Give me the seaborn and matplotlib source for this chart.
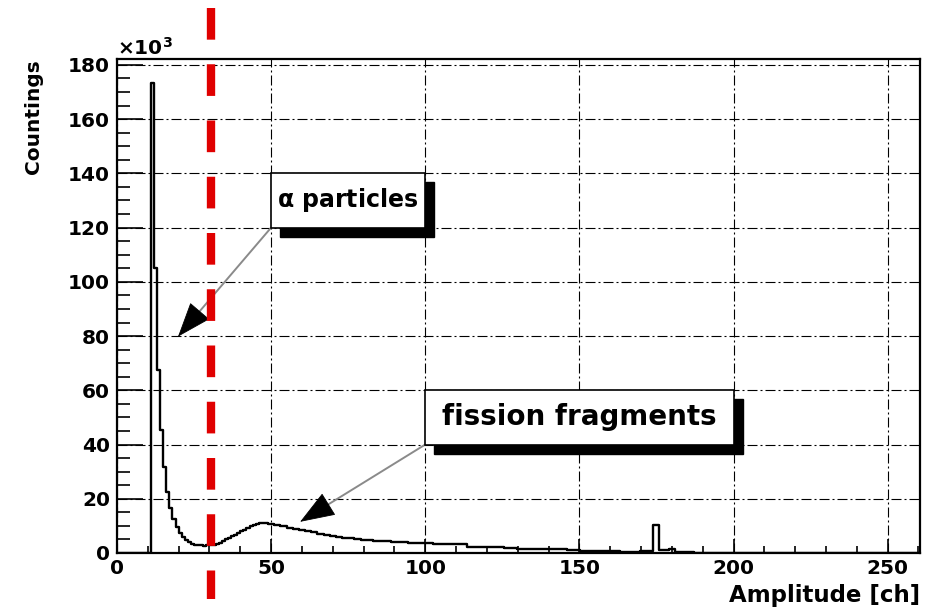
import numpy as np
import pandas as pd
import matplotlib
matplotlib.use("Agg")
import matplotlib.pyplot as plt
import matplotlib.transforms as mtransforms
from matplotlib.patches import Rectangle, FancyArrowPatch
from matplotlib.ticker import MultipleLocator
import seaborn as sns

# ---------------- data (counts in units of 10^3) ----------------
edges_low = [0, 11, 12, 13, 14, 15, 16, 17, 18, 19, 20, 21, 22, 23, 24, 25,
             26, 27, 28, 29, 30, 31, 32, 33, 34, 35, 36, 37, 38, 39, 40, 41,
             42, 43, 44, 45, 46, 47, 48, 49, 50, 51]
counts_low = [0, 173.5, 105, 67.5, 45.4, 31.8, 22.6, 16.6, 12.5, 9.5, 7.5,
              6.0, 4.9, 4.1, 3.5, 3.1, 2.9, 2.8, 2.7, 2.8, 2.9, 3.1, 3.4, 3.8,
              4.4, 5.0, 5.6, 6.2, 6.8, 7.5, 8.1, 8.6, 9.2, 9.8, 10.3, 10.7,
              11.0, 11.0, 10.9, 10.7, 10.6]
edges_mid = [53, 55, 57, 59, 61, 63, 65, 67, 69, 71, 73, 75, 77, 79, 81, 83,
             85, 87, 89, 91]
counts_mid = [10.2, 9.8, 9.4, 9.0, 8.6, 8.1, 7.6, 7.1, 6.7, 6.4, 6.0, 5.7,
              5.4, 5.1, 4.9, 4.7, 4.6, 4.4, 4.3, 4.2]
edges_tail = [94.5, 100, 102.6, 113.5, 125.4, 129.7, 146, 150.3, 160, 163.3,
              169.8, 174, 175.8, 179, 181, 187.3, 260.5]
counts_tail = [4.1, 3.8, 3.6, 3.2, 2.3, 2.0, 1.6, 1.0, 0.8, 0.9, 0.35, 0.9,
               10.3, 1.1, 1.4, 0.5, 0]

x_ticks = [0, 50, 100, 150, 200, 250]
y_ticks = [0, 20, 40, 60, 80, 100, 120, 140, 160, 180]

cut_channel = 30.4
alpha_box = (50, 120, 100, 140)
alpha_tip = (19.8, 79.8)
fission_box = (100, 40, 200, 60)
fission_tip = (59.4, 11.5)

edges = [float(e) for e in edges_low + edges_mid + edges_tail]
counts = np.array(counts_low + counts_mid + counts_tail, dtype=float)
centers = [0.5 * (a + b) for a, b in zip(edges[:-1], edges[1:])]
df = pd.DataFrame({"channel": centers, "counts": counts})

# ---------------- style ----------------
sns.set_theme(style="white")
plt.rcParams["font.family"] = ["DejaVu Sans"]
plt.rcParams["font.weight"] = "bold"
plt.rcParams["mathtext.default"] = "regular"
plt.rcParams["text.color"] = "black"
plt.rcParams["axes.labelcolor"] = "black"
plt.rcParams["xtick.color"] = "black"
plt.rcParams["ytick.color"] = "black"

fig = plt.figure(figsize=(9.27, 6.07), dpi=100)
fig.patch.set_facecolor("white")
W, H = 927, 607
ax = fig.add_axes([117 / W, 54 / H, 803 / W, 494 / H])
ax.set_facecolor("white")

sns.histplot(data=df, x="channel", weights="counts", bins=edges,
             element="step", fill=False, color="black", linewidth=1.7,
             ax=ax, zorder=3)

ax.set_xlim(0, 260.5)
ax.set_ylim(0, 1.05 * counts.max())

ax.set_xticks(x_ticks)
ax.set_yticks(y_ticks)
ax.xaxis.set_minor_locator(MultipleLocator(10))
ax.yaxis.set_minor_locator(MultipleLocator(5))
ax.tick_params(axis="both", which="both", direction="in", colors="black",
               labelsize=14.5, top=False, right=False, bottom=True, left=True,
               labelcolor="black")
ax.tick_params(axis="x", which="major", length=10, width=1.2, pad=4)
ax.tick_params(axis="x", which="minor", length=5, width=1.2)
ax.tick_params(axis="y", which="major", length=19, width=1.2, pad=5)
ax.tick_params(axis="y", which="minor", length=9.5, width=1.2)
for lab in ax.get_xticklabels() + ax.get_yticklabels():
    lab.set_fontweight("bold")

ax.set_axisbelow(True)
ax.grid(True, which="major", color="black", linewidth=0.8,
        linestyle=(0, (9, 2.7, 1.8, 2.7)))

for sp in ax.spines.values():
    sp.set_color("black")
    sp.set_linewidth(1.6)
    sp.set_visible(True)

ax.set_xlabel("Amplitude [ch]", fontsize=16.5, fontweight="bold", loc="right",
              color="black")
ax.xaxis.set_label_coords(1.0, -0.062)
ax.set_ylabel("Countings", fontsize=14.5, fontweight="bold", loc="top",
              color="black")
ax.yaxis.set_label_coords(-0.0918, 1.0)

ax.text(0.0, 1.008, r"$\times$10$^{3}$", transform=ax.transAxes,
        fontsize=14.5, fontweight="bold", ha="left", va="baseline",
        color="black")

# ---------------- annotation boxes with shadow ----------------
shadow_tr = mtransforms.offset_copy(ax.transData, fig=fig, x=9, y=-9,
                                    units="dots")


def shadow_box(box, label, size):
    x0, y0, x1, y1 = box
    ax.add_patch(Rectangle((x0, y0), x1 - x0, y1 - y0, transform=shadow_tr,
                           facecolor="black", edgecolor="black", zorder=5,
                           clip_on=False))
    ax.add_patch(Rectangle((x0, y0), x1 - x0, y1 - y0, facecolor="white",
                           edgecolor="black", linewidth=1.2, zorder=6,
                           clip_on=False))
    ax.text(0.5 * (x0 + x1), 0.5 * (y0 + y1), label, fontsize=size,
            fontweight="bold", ha="center", va="center", zorder=7,
            color="black")


HEAD_LEN = 23  # points


def arrow(start, tip):
    # thin grey shaft
    ax.add_patch(FancyArrowPatch(start, tip, arrowstyle="-",
                                 mutation_scale=1, shrinkA=0, shrinkB=10,
                                 color="#8a8a8a", linewidth=1.4, zorder=4))
    # solid black head only (shaft shrunk away)
    p0 = ax.transData.transform(start)
    p1 = ax.transData.transform(tip)
    dist_pt = np.hypot(*(p1 - p0)) * 72.0 / fig.dpi
    ax.add_patch(FancyArrowPatch(start, tip,
                                 arrowstyle=f"-|>,head_length={HEAD_LEN},head_width=8.5",
                                 mutation_scale=1,
                                 shrinkA=dist_pt - HEAD_LEN - 0.5, shrinkB=0,
                                 edgecolor="black", facecolor="black",
                                 linewidth=0.6, zorder=4.5))


arrow((alpha_box[0], alpha_box[1]), alpha_tip)
arrow((fission_box[0], fission_box[1]), fission_tip)
shadow_box(alpha_box, r"$\mathrm{\alpha}$ particles", 17)
shadow_box(fission_box, "fission fragments", 20)

# ---------------- red dashed cut line ----------------
blend = mtransforms.blended_transform_factory(ax.transData, fig.transFigure)
ax.plot([cut_channel, cut_channel], [1 - 7.8 / H, 1 - 599.3 / H],
        transform=blend, color="#e00000", linewidth=6.0, clip_on=False,
        linestyle=(0, (3.8, 2.95)), solid_capstyle="butt",
        dash_capstyle="butt", zorder=10)

fig.savefig("out.png", dpi=100, facecolor="white")
